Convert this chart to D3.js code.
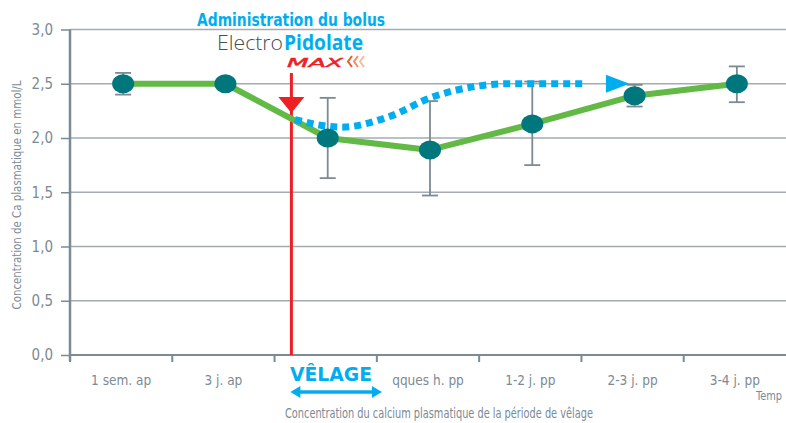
<!DOCTYPE html>
<html>
<head>
<meta charset="utf-8">
<script src="https://cdn.jsdelivr.net/npm/d3@7"></script>
<style>
  body { margin: 0; background: #fff; }
  svg text { font-family: "DejaVu Sans Condensed", "Liberation Sans Narrow", "Roboto", sans-serif; font-stretch: condensed; }
</style>
</head>
<body>
<svg id="chart" width="786" height="423"></svg>
<script>
// categories (periode de velage)
var categories = ["1 sem. ap", "3 j. ap", "", "qques h. pp", "1-2 j. pp", "2-3 j. pp", "3-4 j. pp"];
// calcemie moyenne (mmol/L)
var values = [2.5, 2.5, 2.0, 1.89, 2.13, 2.39, 2.5];
// barres d'erreur
var errHigh = [2.60, null, 2.37, 2.34, 2.52, 2.49, 2.66];
var errLow  = [2.40, null, 1.63, 1.47, 1.75, 2.29, 2.33];
// ticks de l'axe Y
var yTicks = [0, 0.5, 1.0, 1.5, 2.0, 2.5, 3.0];
// courbe avec bolus (position en index de categorie, valeur)
var bolusX = [1.68, 2.13, 2.58, 3.03, 3.48, 3.78, 4.53];
var bolusY = [2.17, 2.10, 2.19, 2.38, 2.48, 2.5, 2.5];
var bolusIdx = 1.645;

var svg = d3.select("#chart");
var margin = {top: 29.5, right: 0, bottom: 68, left: 70};
var width = 786 - margin.left - margin.right,
    height = 423 - margin.top - margin.bottom;

var gray = "#7b8a95";

var x = d3.scaleBand().domain(d3.range(categories.length)).range([0, width]);
var bw = x.bandwidth();
// les points sont un peu a droite du centre des bandes
var xi = d3.scaleLinear().domain([0, categories.length - 1]).range([bw / 2 + 2, width - bw / 2 + 2]);
var y = d3.scaleLinear().domain([0, 3]).range([height, 0]);

var g = svg.append("g").attr("transform", "translate(" + margin.left + "," + margin.top + ")");

// grid
g.selectAll(".grid").data(yTicks.filter(function(d) { return d > 0; }))
  .enter().append("line")
  .attr("x1", 0).attr("x2", width)
  .attr("y1", function(d) { return y(d); }).attr("y2", function(d) { return y(d); })
  .attr("stroke", "#a3acb3").attr("stroke-width", 1.5);

// y axis
var yAxis = g.append("g").call(d3.axisLeft(y).tickValues(yTicks).tickSize(9).tickPadding(8)
  .tickFormat(function(d) { return d3.format(".1f")(d).replace(".", ","); }));
yAxis.select(".domain").attr("stroke", gray).attr("stroke-width", 2.5).attr("d", "M0," + (height + 6) + "V0");
yAxis.selectAll(".tick line").attr("stroke", gray).attr("stroke-width", 1.5);
yAxis.selectAll(".tick text").attr("fill", gray).style("font-size", "15px");

// x axis
g.append("line").attr("x1", 0).attr("x2", width).attr("y1", height).attr("y2", height)
  .attr("stroke", gray).attr("stroke-width", 2);
g.selectAll(".xtick").data(d3.range(categories.length))
  .enter().append("line")
  .attr("x1", function(d) { return x(d); }).attr("x2", function(d) { return x(d); })
  .attr("y1", height).attr("y2", height + 7)
  .attr("stroke", gray).attr("stroke-width", 2);
g.selectAll(".xlab").data(categories)
  .enter().append("text")
  .attr("x", function(d, i) { return x(i) + bw / 2; })
  .attr("y", height + 30)
  .attr("text-anchor", "middle")
  .attr("fill", gray).style("font-size", "13.5px")
  .text(function(d) { return d; });

// titres des axes
svg.append("text")
  .attr("transform", "translate(21,195) rotate(-90)")
  .attr("text-anchor", "middle").attr("fill", gray).style("font-size", "13px")
  .attr("textLength", 229).attr("lengthAdjust", "spacingAndGlyphs")
  .text("Concentration de Ca plasmatique en mmol/L");
svg.append("text")
  .attr("x", 439).attr("y", 418)
  .attr("text-anchor", "middle").attr("fill", gray).style("font-size", "13.5px")
  .attr("textLength", 308).attr("lengthAdjust", "spacingAndGlyphs")
  .text("Concentration du calcium plasmatique de la période de vêlage");
svg.append("text")
  .attr("x", 756).attr("y", 400).attr("fill", gray).style("font-size", "13px")
  .attr("textLength", 26).attr("lengthAdjust", "spacingAndGlyphs")
  .text("Temp");

// fleche rouge (bolus)
var red = "#ee2024";
var bx = xi(bolusIdx);
g.append("line").attr("x1", bx).attr("x2", bx).attr("y1", y(2.6)).attr("y2", height)
  .attr("stroke", red).attr("stroke-width", 3);
g.append("path")
  .attr("d", "M" + (bx - 13) + "," + y(2.378) + "L" + (bx + 13) + "," + y(2.378) + "L" + bx + "," + y(2.23) + "Z")
  .attr("fill", red);

// barres d'erreur
var eb = g.selectAll(".err").data(values.map(function(v, i) { return {i: i, hi: errHigh[i], lo: errLow[i]}; })
  .filter(function(d) { return d.hi != null; }))
  .enter().append("g").attr("stroke", gray).attr("stroke-width", 1.8);
eb.append("line")
  .attr("x1", function(d) { return xi(d.i); }).attr("x2", function(d) { return xi(d.i); })
  .attr("y1", function(d) { return y(d.hi); }).attr("y2", function(d) { return y(d.lo); });
eb.append("line")
  .attr("x1", function(d) { return xi(d.i) - 8; }).attr("x2", function(d) { return xi(d.i) + 8; })
  .attr("y1", function(d) { return y(d.hi); }).attr("y2", function(d) { return y(d.hi); });
eb.append("line")
  .attr("x1", function(d) { return xi(d.i) - 8; }).attr("x2", function(d) { return xi(d.i) + 8; })
  .attr("y1", function(d) { return y(d.lo); }).attr("y2", function(d) { return y(d.lo); });

// ligne verte
var line = d3.line().x(function(d, i) { return xi(i); }).y(function(d) { return y(d); });
g.append("path").datum(values).attr("d", line)
  .attr("fill", "none").attr("stroke", "#62b946").attr("stroke-width", 6).attr("stroke-linejoin", "round");

// courbe bleue pointillee
var blue = "#00aeef";
var curve = d3.line().curve(d3.curveMonotoneX)
  .x(function(d) { return xi(d[0]); }).y(function(d) { return y(d[1]); });
g.append("path").datum(bolusX.map(function(v, i) { return [v, bolusY[i]]; }))
  .attr("d", curve).attr("fill", "none").attr("stroke", blue)
  .attr("stroke-width", 7).attr("stroke-dasharray", "7,5");
g.append("path")
  .attr("d", "M" + xi(4.72) + "," + (y(2.5) - 9) + "L" + xi(4.95) + "," + y(2.5) + "L" + xi(4.72) + "," + (y(2.5) + 9) + "Z")
  .attr("fill", blue);

// points
g.selectAll(".dot").data(values).enter().append("ellipse")
  .attr("cx", function(d, i) { return xi(i); }).attr("cy", function(d) { return y(d); })
  .attr("rx", 11).attr("ry", 9.5).attr("fill", "#00777c");

// annotations du haut
svg.append("text").attr("x", 291).attr("y", 26).attr("text-anchor", "middle")
  .attr("fill", blue).style("font-size", "17px").style("font-weight", "bold")
  .attr("textLength", 188).attr("lengthAdjust", "spacingAndGlyphs")
  .text("Administration du bolus");
svg.append("text").attr("x", 217).attr("y", 50)
  .attr("fill", "#4d4d4d").style("font-size", "21px").style("font-weight", "300")
  .style("font-family", "'Open Sans', sans-serif").style("font-stretch", "normal")
  .attr("textLength", 66).attr("lengthAdjust", "spacingAndGlyphs")
  .text("Electro");
svg.append("text").attr("x", 284).attr("y", 50)
  .attr("fill", blue).style("font-size", "21px").style("font-weight", "bold")
  .style("font-family", "'Open Sans', sans-serif").style("font-stretch", "normal")
  .attr("textLength", 79).attr("lengthAdjust", "spacingAndGlyphs")
  .text("Pidolate");
svg.append("text").attr("x", 287).attr("y", 67)
  .attr("fill", red).style("font-size", "12px").style("font-style", "italic")
  .attr("stroke", red).attr("stroke-width", 0.4)
  .attr("textLength", 56).attr("lengthAdjust", "spacingAndGlyphs")
  .text("MAX");
[["#f15a29", 348], ["#f58d5e", 354], ["#f9bb99", 360]].forEach(function(c) {
  svg.append("polyline")
    .attr("points", (c[1] + 4) + ",56 " + c[1] + ",61.5 " + (c[1] + 4) + ",67")
    .attr("fill", "none").attr("stroke", c[0]).attr("stroke-width", 2);
});

// VELAGE
svg.append("text").attr("x", 290).attr("y", 381)
  .attr("fill", blue).style("font-size", "20px").style("font-weight", "bold")
  .attr("textLength", 82).attr("lengthAdjust", "spacingAndGlyphs")
  .text("VÊLAGE");
var vx0 = margin.left + xi(bolusIdx) - 1, vx1 = margin.left + xi(2.53), vy = 392;
svg.append("line").attr("x1", vx0 + 6).attr("x2", vx1 - 6).attr("y1", vy).attr("y2", vy)
  .attr("stroke", blue).attr("stroke-width", 3.5);
svg.append("path").attr("d", "M" + vx0 + "," + vy + "L" + (vx0 + 10) + "," + (vy - 6) + "L" + (vx0 + 10) + "," + (vy + 6) + "Z").attr("fill", blue);
svg.append("path").attr("d", "M" + vx1 + "," + vy + "L" + (vx1 - 10) + "," + (vy - 6) + "L" + (vx1 - 10) + "," + (vy + 6) + "Z").attr("fill", blue);
</script>
</body>
</html>
